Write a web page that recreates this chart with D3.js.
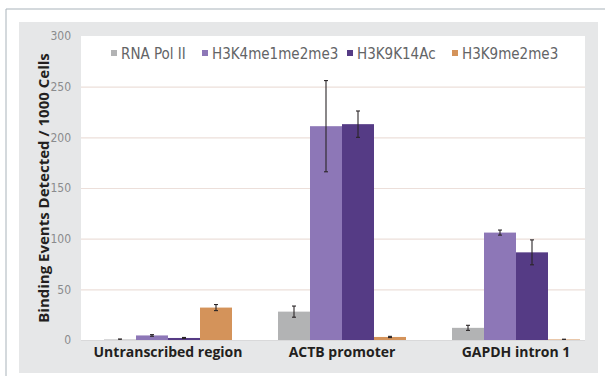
<!DOCTYPE html>
<html>
<head>
<meta charset="utf-8">
<script src="https://cdn.jsdelivr.net/npm/d3@7"></script>
<style>
  html, body { margin: 0; padding: 0; background: #ffffff; }
  svg { display: block; }
</style>
</head>
<body>
<svg id="chart" width="605" height="376"></svg>
<script>
// Regions assayed and the antibodies used
const categories = ["Untranscribed region", "ACTB promoter", "GAPDH intron 1"];
const seriesNames = ["RNA Pol II", "H3K4me1me2me3", "H3K9K14Ac", "H3K9me2me3"];
const seriesColors = ["#b2b3b4", "#8d77b7", "#553b85", "#d4935a"];

// Mean binding events per 1000 cells, one array per antibody (in category order)
const rnaPolII   = [0.5, 28, 12];
const h3k4me     = [4.5, 211, 106];
const h3k9k14ac  = [2, 213, 86.5];
const h3k9me2me3 = [32, 3, 0.5];

// Error-bar half widths, same layout
const rnaPolIIErr   = [0.5, 5.5, 2.5];
const h3k4meErr     = [0.8, 45, 2.5];
const h3k9k14acErr  = [0.5, 13, 12.3];
const h3k9me2me3Err = [3, 0.6, 0.3];

const yTicks = [0, 50, 100, 150, 200, 250, 300];

const seriesValues = [rnaPolII, h3k4me, h3k9k14ac, h3k9me2me3];
const seriesErrors = [rnaPolIIErr, h3k4meErr, h3k9k14acErr, h3k9me2me3Err];

const svg = d3.select("#chart");

// Frame and panel
svg.append("line").attr("x1", 6).attr("x2", 605).attr("y1", 9).attr("y2", 9)
  .attr("stroke", "#a9b3ba").attr("stroke-width", 1);
svg.append("line").attr("x1", 6).attr("x2", 6).attr("y1", 9).attr("y2", 376)
  .attr("stroke", "#a9b3ba").attr("stroke-width", 1);
svg.append("rect").attr("x", 19).attr("y", 22).attr("width", 579).attr("height", 351)
  .attr("fill", "#e6e7e8");

const plot = { left: 81, right: 585, top: 36, bottom: 340 };
svg.append("rect").attr("x", plot.left).attr("y", plot.top)
  .attr("width", plot.right - plot.left).attr("height", plot.bottom - plot.top + 1)
  .attr("fill", "#ffffff");

const y = d3.scaleLinear().domain([0, 300]).range([plot.bottom, plot.top]);
const x0 = d3.scaleBand().domain(categories)
  .range([plot.left, plot.left + 522])
  .paddingInner(46 / 174).paddingOuter(23 / 174);
const x1 = d3.scaleBand().domain(seriesNames).range([0, x0.bandwidth()]);

// Gridlines
svg.append("g").selectAll("line")
  .data(yTicks.filter(t => t > 0 && t < 300))
  .join("line")
  .attr("x1", plot.left).attr("x2", plot.right)
  .attr("y1", d => y(d) + 0.5).attr("y2", d => y(d) + 0.5)
  .attr("stroke", "#ecdfda").attr("stroke-width", 1.2);

// Y axis tick labels
const yAxis = d3.axisLeft(y).tickValues(yTicks).tickSize(0).tickPadding(0);
const gy = svg.append("g").attr("transform", `translate(${plot.left - 10},0)`).call(yAxis);
gy.select(".domain").remove();
gy.selectAll("text")
  .attr("fill", "#8a8b8d")
  .style("font-family", "'Liberation Sans Narrow', 'DejaVu Sans Condensed', sans-serif")
  .style("font-size", "12px");

// Bars
const groups = svg.append("g").selectAll("g")
  .data(categories)
  .join("g")
  .attr("transform", d => `translate(${x0(d)},0)`);

const cells = (c, ci) => seriesNames.map((s, si) => ({ s, si, v: seriesValues[si][ci], e: seriesErrors[si][ci] }));

groups.selectAll("rect")
  .data(cells)
  .join("rect")
  .attr("x", d => x1(d.s))
  .attr("y", d => y(d.v))
  .attr("width", x1.bandwidth())
  .attr("height", d => y(0) - y(d.v))
  .attr("fill", d => seriesColors[d.si]);

// Error bars
const eb = groups.selectAll("g.err")
  .data(cells)
  .join("g").attr("class", "err")
  .attr("stroke", "#2a2527").attr("stroke-width", 1.1);
const cx = d => x1(d.s) + x1.bandwidth() / 2;
eb.append("line")
  .attr("x1", cx).attr("x2", cx)
  .attr("y1", d => y(d.v + d.e)).attr("y2", d => y(d.v - d.e));
eb.append("line")
  .attr("x1", d => cx(d) - 2).attr("x2", d => cx(d) + 2)
  .attr("y1", d => y(d.v + d.e)).attr("y2", d => y(d.v + d.e));
eb.append("line")
  .attr("x1", d => cx(d) - 2).attr("x2", d => cx(d) + 2)
  .attr("y1", d => y(d.v - d.e)).attr("y2", d => y(d.v - d.e));

// Baseline
svg.append("line").attr("x1", plot.left).attr("x2", plot.right)
  .attr("y1", plot.bottom + 0.5).attr("y2", plot.bottom + 0.5)
  .attr("stroke", "#d9d9da").attr("stroke-width", 1);

// X axis category labels
const xAxis = d3.axisBottom(x0).tickSize(0).tickPadding(0);
const gx = svg.append("g").attr("transform", `translate(0,${plot.bottom + 7})`).call(xAxis);
gx.select(".domain").remove();
gx.selectAll("text")
  .attr("fill", "#231f20")
  .style("font-family", "'Open Sans', sans-serif")
  .style("font-weight", "700")
  .style("font-size", "14px");

// Y axis title
svg.append("text")
  .attr("transform", `translate(49,188) rotate(-90)`)
  .attr("text-anchor", "middle")
  .attr("fill", "#231f20")
  .style("font-family", "'Open Sans', sans-serif")
  .style("font-weight", "700")
  .style("font-size", "15px")
  .text("Binding Events Detected / 1000 Cells");

// Legend
const legendX = [111, 202, 347, 452];
const legend = svg.append("g").selectAll("g")
  .data(seriesNames)
  .join("g")
  .attr("transform", (d, i) => `translate(${legendX[i]},0)`);
legend.append("rect").attr("x", 0).attr("y", 50).attr("width", 6).attr("height", 6)
  .attr("fill", (d, i) => seriesColors[i]);
legend.append("text").attr("x", 10).attr("y", 59)
  .attr("fill", "#636466")
  .style("font-family", "'Liberation Sans Narrow', 'DejaVu Sans Condensed', sans-serif")
  .style("font-size", "15px")
  .text(d => d);
</script>
</body>
</html>
